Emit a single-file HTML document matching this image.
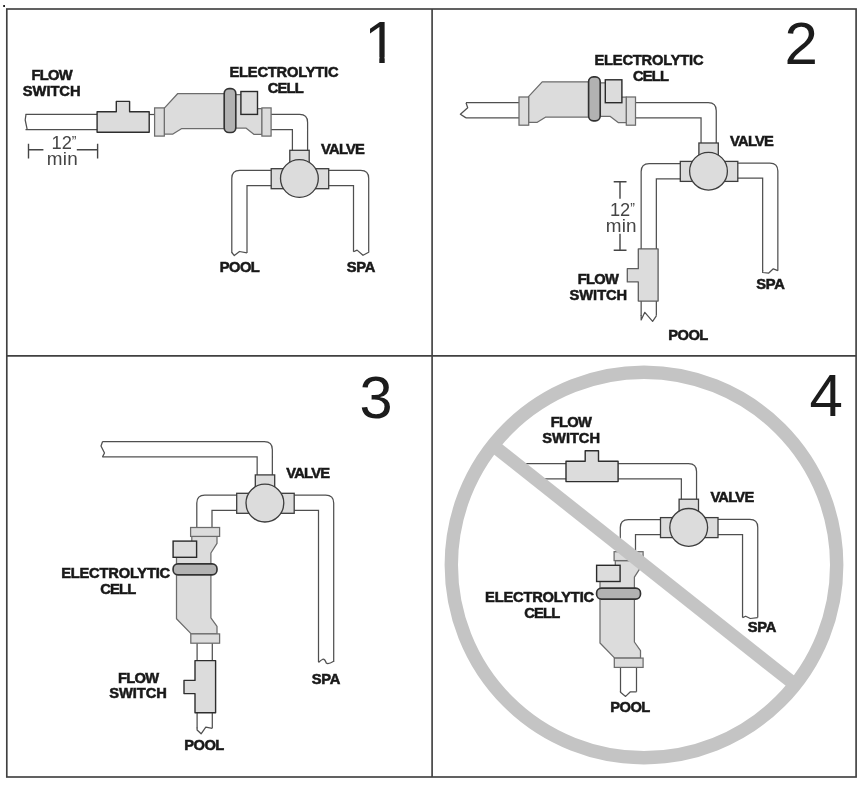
<!DOCTYPE html>
<html lang="en"><head><meta charset="utf-8"><title>Flow switch and electrolytic cell plumbing configurations</title>
<style>html,body{margin:0;padding:0;background:#fff}svg{display:block}</style></head>
<body>
<svg width="867" height="786" viewBox="0 0 867 786" font-family="'Liberation Sans', Arial, Helvetica, sans-serif">
<rect x="0" y="0" width="867" height="786" fill="#fff"/>
<defs><filter id="soft" x="0" y="0" width="867" height="786" filterUnits="userSpaceOnUse"><feGaussianBlur stdDeviation="0.42"/></filter></defs>
<g filter="url(#soft)">
<circle cx="644" cy="565" r="192.7" fill="none" stroke="#c4c4c4" stroke-width="13.4"/>
<path d="M25.5,114.4L98,114.4L98,129.6L25.5,129.6Z" fill="#fff" stroke="none"/>
<path d="M25.5,114.4L98,114.4 M25.5,129.6L98,129.6" fill="none" stroke="#505050" stroke-width="1.25"/>
<path d="M26,114.4 L25.2,120 L27.2,129.6" fill="none" stroke="#505050" stroke-width="1.25" stroke-linejoin="round" />
<path d="M149,114.5 H155" fill="none" stroke="#505050" stroke-width="1.25" stroke-linejoin="round" />
<path d="M97.1,111.8 L116.3,111.8 L116.3,101.4 L129.6,101.4 L129.6,111.8 L149.2,111.8 L149.2,132.2 L97.1,132.2Z" fill="#dcdcdc" stroke="#2e2e2e" stroke-width="1.4" stroke-linejoin="round"/>
<path d="M270,114.4L299.6,114.4Q307.6,114.4 307.6,122.4L307.6,151L292.4,151L292.4,129.6L270,129.6Z" fill="#fff" stroke="none"/>
<path d="M270,114.4L299.6,114.4Q307.6,114.4 307.6,122.4L307.6,151 M270,129.6L292.4,129.6L292.4,151" fill="none" stroke="#505050" stroke-width="1.25"/>
<path d="M164.1,108.4 L177.8,93.5 L226.6,93.5 L226.6,128.7 L181.4,128.7 L172.9,134 L164.1,134Z" fill="#dcdcdc" stroke="#6c6c6c" stroke-width="1.25" stroke-linejoin="round"/>
<path d="M233.6,94.5 L246.6,94.5 L246.6,108.7 L262.1,108.7 L262.1,134.4 L254.1,134.4 L245.9,128.1 L233.6,128.1Z" fill="#dcdcdc" stroke="#6c6c6c" stroke-width="1.25" stroke-linejoin="round"/>
<rect x="154.6" y="107.9" width="9.7" height="28.2" fill="#dcdcdc" stroke="#6c6c6c" stroke-width="1.25"/>
<rect x="261.9" y="107.9" width="9.2" height="28.2" fill="#dcdcdc" stroke="#6c6c6c" stroke-width="1.25"/>
<rect x="240.9" y="91.5" width="16.6" height="22.9" fill="#dcdcdc" stroke="#2a2a2a" stroke-width="1.4"/>
<rect x="224.2" y="88.6" width="11.6" height="43.9" fill="#b2b2b2" stroke="#333" stroke-width="1.65" rx="4.8"/>
<path d="M272,185.5L247,185.5L247,252.9L231.8,252.9L231.8,178.3Q231.8,170.3 239.8,170.3L272,170.3Z" fill="#fff" stroke="none"/>
<path d="M272,185.5L247,185.5L247,252.9 M272,170.3L239.8,170.3Q231.8,170.3 231.8,178.3L231.8,252.9" fill="none" stroke="#505050" stroke-width="1.25"/>
<path d="M231.8,252.5 L234.3,255.6 L239.5,251.5 L247,252.9" fill="none" stroke="#505050" stroke-width="1.25" stroke-linejoin="round" />
<path d="M326,170.3L360.7,170.3Q368.7,170.3 368.7,178.3L368.7,251.8L353.5,251.8L353.5,185.5L326,185.5Z" fill="#fff" stroke="none"/>
<path d="M326,170.3L360.7,170.3Q368.7,170.3 368.7,178.3L368.7,251.8 M326,185.5L353.5,185.5L353.5,251.8" fill="none" stroke="#505050" stroke-width="1.25"/>
<path d="M353.5,251.8 L357.1,250.1 L363,255.3 L368.7,252.3 V251.5" fill="none" stroke="#505050" stroke-width="1.25" stroke-linejoin="round" />
<rect x="289.8" y="150.3" width="19.4" height="13.2" fill="#dcdcdc" stroke="#3c3c3c" stroke-width="1.3"/>
<rect x="271.2" y="168.7" width="13.2" height="20" fill="#dcdcdc" stroke="#3c3c3c" stroke-width="1.3"/>
<rect x="314.4" y="168.7" width="14.3" height="20" fill="#dcdcdc" stroke="#3c3c3c" stroke-width="1.3"/>
<circle cx="299.4" cy="178.5" r="18.9" fill="#dcdcdc" stroke="#3c3c3c" stroke-width="1.3"/>
<path d="M28.5,143.8 V158.6 M97.6,143.8 V158.6 M28.5,149.8 H43.4 M76.8,149.8 H97.6" fill="none" stroke="#454545" stroke-width="1.4" stroke-linejoin="round" />
<text x="64" y="149" font-size="18.3" font-weight="normal" text-anchor="middle" fill="#454545" >12<tspan font-size="14" dy="-3.1">”</tspan></text>
<text x="62.4" y="164.8" font-size="18.9" font-weight="normal" text-anchor="middle" fill="#454545" letter-spacing="0.25">min</text>
<text x="51.65" y="79.8" font-size="14.7" font-weight="bold" text-anchor="middle" fill="#1a1a1a"  stroke="#1a1a1a" stroke-width="0.55" letter-spacing="-0.7">FLOW</text>
<text x="51.68" y="95.9" font-size="14.7" font-weight="bold" text-anchor="middle" fill="#1a1a1a"  stroke="#1a1a1a" stroke-width="0.55" letter-spacing="-0.05">SWITCH</text>
<text x="283.9" y="76.9" font-size="14.7" font-weight="bold" text-anchor="middle" fill="#1a1a1a"  stroke="#1a1a1a" stroke-width="0.55" letter-spacing="-0.2">ELECTROLYTIC</text>
<text x="285.4" y="93.1" font-size="14.7" font-weight="bold" text-anchor="middle" fill="#1a1a1a"  stroke="#1a1a1a" stroke-width="0.55" letter-spacing="-0.8">CELL</text>
<text x="342.62" y="153.8" font-size="14.7" font-weight="bold" text-anchor="middle" fill="#1a1a1a"  stroke="#1a1a1a" stroke-width="0.55" letter-spacing="-0.75">VALVE</text>
<text x="239.53" y="272" font-size="14.7" font-weight="bold" text-anchor="middle" fill="#1a1a1a"  stroke="#1a1a1a" stroke-width="0.55" letter-spacing="-0.55">POOL</text>
<text x="360.85" y="272" font-size="14.7" font-weight="bold" text-anchor="middle" fill="#1a1a1a"  stroke="#1a1a1a" stroke-width="0.55" letter-spacing="-0.3">SPA</text>
<clipPath id="one"><rect x="360" y="10" width="40" height="47"/><rect x="379.3" y="56" width="5.4" height="10"/></clipPath>
<text x="364.2" y="62.8" font-size="60" font-weight="normal" text-anchor="start" fill="#1a1a1a" clip-path="url(#one)">1</text>
<path d="M466,102.7L520,102.7L520,117.9L466,117.9Z" fill="#fff" stroke="none"/>
<path d="M466,102.7L520,102.7 M466,117.9L520,117.9" fill="none" stroke="#505050" stroke-width="1.25"/>
<path d="M466,102.7 L467.7,107.7 L460.4,114.3 L466,117.9" fill="none" stroke="#505050" stroke-width="1.25" stroke-linejoin="round" />
<path d="M634,102.7L708.25,102.7Q716.25,102.7 716.25,110.7L716.25,144L701.05,144L701.05,117.9L634,117.9Z" fill="#fff" stroke="none"/>
<path d="M634,102.7L708.25,102.7Q716.25,102.7 716.25,110.7L716.25,144 M634,117.9L701.05,117.9L701.05,144" fill="none" stroke="#505050" stroke-width="1.25"/>
<path d="M528.5,96.7 L542.2,81.8 L591,81.8 L591,117 L545.8,117 L537.3,122.3 L528.5,122.3Z" fill="#dcdcdc" stroke="#6c6c6c" stroke-width="1.25" stroke-linejoin="round"/>
<path d="M598,82.8 L611,82.8 L611,97 L626.5,97 L626.5,122.7 L618.5,122.7 L610.3,116.4 L598,116.4Z" fill="#dcdcdc" stroke="#6c6c6c" stroke-width="1.25" stroke-linejoin="round"/>
<rect x="519" y="97" width="9.7" height="28.2" fill="#dcdcdc" stroke="#6c6c6c" stroke-width="1.25"/>
<rect x="626.3" y="97" width="9.2" height="28.2" fill="#dcdcdc" stroke="#6c6c6c" stroke-width="1.25"/>
<rect x="605.3" y="79.8" width="16.6" height="22.9" fill="#dcdcdc" stroke="#2a2a2a" stroke-width="1.4"/>
<rect x="588.6" y="76.9" width="11.6" height="43.9" fill="#b2b2b2" stroke="#333" stroke-width="1.65" rx="4.8"/>
<path d="M681,178.8L656.35,178.8L656.35,315.8L641.15,315.8L641.15,171.6Q641.15,163.6 649.15,163.6L681,163.6Z" fill="#fff" stroke="none"/>
<path d="M681,178.8L656.35,178.8L656.35,315.8 M681,163.6L649.15,163.6Q641.15,163.6 641.15,171.6L641.15,315.8" fill="none" stroke="#505050" stroke-width="1.25"/>
<path d="M641.15,315 V319.9 L644.8,312.3 L652.6,321.3 L656.35,315.8" fill="none" stroke="#505050" stroke-width="1.25" stroke-linejoin="round" />
<path d="M638.3,248.9 L658.1,248.9 L658.1,301.1 L638.3,301.1 L638.3,281.9 L627.3,281.9 L627.3,268.7 L638.3,268.7Z" fill="#dcdcdc" stroke="#5e5e5e" stroke-width="1.3" stroke-linejoin="round"/>
<path d="M736,163L769.85,163Q777.85,163 777.85,171L777.85,270.7L762.65,270.7L762.65,178.2L736,178.2Z" fill="#fff" stroke="none"/>
<path d="M736,163L769.85,163Q777.85,163 777.85,171L777.85,270.7 M736,178.2L762.65,178.2L762.65,270.7" fill="none" stroke="#505050" stroke-width="1.25"/>
<path d="M762.65,270 V272.5 L768.5,273.2 L773.3,268.8 L777.85,270.7" fill="none" stroke="#505050" stroke-width="1.25" stroke-linejoin="round" />
<rect x="698.9" y="143" width="19.4" height="13.2" fill="#dcdcdc" stroke="#3c3c3c" stroke-width="1.3"/>
<rect x="680.3" y="161.4" width="13.2" height="20" fill="#dcdcdc" stroke="#3c3c3c" stroke-width="1.3"/>
<rect x="723.5" y="161.4" width="14.3" height="20" fill="#dcdcdc" stroke="#3c3c3c" stroke-width="1.3"/>
<circle cx="708.5" cy="171.2" r="18.9" fill="#dcdcdc" stroke="#3c3c3c" stroke-width="1.3"/>
<path d="M613.7,181.8 H626.5 M613.7,250.2 H626.5 M620,181.8 V198.7 M620,233.7 V250.2" fill="none" stroke="#454545" stroke-width="1.4" stroke-linejoin="round" />
<text x="622.4" y="216" font-size="18.3" font-weight="normal" text-anchor="middle" fill="#454545" >12<tspan font-size="14" dy="-3.1">”</tspan></text>
<text x="621.3" y="231.8" font-size="18.9" font-weight="normal" text-anchor="middle" fill="#454545" letter-spacing="0.25">min</text>
<text x="598.05" y="283.5" font-size="14.7" font-weight="bold" text-anchor="middle" fill="#1a1a1a"  stroke="#1a1a1a" stroke-width="0.55" letter-spacing="-0.7">FLOW</text>
<text x="598.38" y="300.4" font-size="14.7" font-weight="bold" text-anchor="middle" fill="#1a1a1a"  stroke="#1a1a1a" stroke-width="0.55" letter-spacing="-0.05">SWITCH</text>
<text x="648.9" y="65" font-size="14.7" font-weight="bold" text-anchor="middle" fill="#1a1a1a"  stroke="#1a1a1a" stroke-width="0.55" letter-spacing="-0.2">ELECTROLYTIC</text>
<text x="650.6" y="81.3" font-size="14.7" font-weight="bold" text-anchor="middle" fill="#1a1a1a"  stroke="#1a1a1a" stroke-width="0.55" letter-spacing="-0.8">CELL</text>
<text x="751.62" y="146.4" font-size="14.7" font-weight="bold" text-anchor="middle" fill="#1a1a1a"  stroke="#1a1a1a" stroke-width="0.55" letter-spacing="-0.75">VALVE</text>
<text x="688.02" y="339.5" font-size="14.7" font-weight="bold" text-anchor="middle" fill="#1a1a1a"  stroke="#1a1a1a" stroke-width="0.55" letter-spacing="-0.55">POOL</text>
<text x="770.45" y="289.4" font-size="14.7" font-weight="bold" text-anchor="middle" fill="#1a1a1a"  stroke="#1a1a1a" stroke-width="0.55" letter-spacing="-0.3">SPA</text>
<text x="784.5" y="63.9" font-size="60" font-weight="normal" text-anchor="start" fill="#1a1a1a" >2</text>
<path d="M102.3,441.7L264.35,441.7Q272.35,441.7 272.35,449.7L272.35,476L257.15,476L257.15,456.9L102.3,456.9Z" fill="#fff" stroke="none"/>
<path d="M102.3,441.7L264.35,441.7Q272.35,441.7 272.35,449.7L272.35,476 M102.3,456.9L257.15,456.9L257.15,476" fill="none" stroke="#505050" stroke-width="1.25"/>
<path d="M102.5,441.7 L101,446 L104.5,453 L102.5,456.9" fill="none" stroke="#505050" stroke-width="1.25" stroke-linejoin="round" />
<path d="M238,510.25L212,510.25L212,529L196.8,529L196.8,503.05Q196.8,495.05 204.8,495.05L238,495.05Z" fill="#fff" stroke="none"/>
<path d="M238,510.25L212,510.25L212,529 M238,495.05L204.8,495.05Q196.8,495.05 196.8,503.05L196.8,529" fill="none" stroke="#505050" stroke-width="1.25"/>
<path d="M212.3,642L212.3,728.3L197.1,728.3L197.1,642Z" fill="#fff" stroke="none"/>
<path d="M212.3,642L212.3,728.3 M197.1,642L197.1,728.3" fill="none" stroke="#505050" stroke-width="1.25"/>
<path d="M197.1,727.5 V730 L201.1,733.8 L205.8,727.2 L212.3,728.3" fill="none" stroke="#505050" stroke-width="1.25" stroke-linejoin="round" />
<path d="M191.8,536.4 L217,536.4 L217,543.4 L210.9,553 L210.9,567.5 L176.5,567.5 L176.5,547.5 L191.8,547.5Z" fill="#dcdcdc" stroke="#6c6c6c" stroke-width="1.25" stroke-linejoin="round"/>
<path d="M176.5,571.5 L210.9,571.5 L210.9,617.8 L217,626.4 L217,633.9 L191.2,633.9 L176.5,618.8Z" fill="#dcdcdc" stroke="#6c6c6c" stroke-width="1.25" stroke-linejoin="round"/>
<rect x="190.6" y="527.5" width="29" height="8.9" fill="#dcdcdc" stroke="#6c6c6c" stroke-width="1.25"/>
<rect x="190.8" y="633.9" width="28.8" height="9.3" fill="#dcdcdc" stroke="#6c6c6c" stroke-width="1.25"/>
<rect x="173.1" y="541.1" width="23.5" height="16.2" fill="#dcdcdc" stroke="#2a2a2a" stroke-width="1.4"/>
<rect x="173.1" y="563.9" width="43.9" height="11" fill="#b2b2b2" stroke="#333" stroke-width="1.65" rx="4.8"/>
<path d="M195,660.6 L215.6,660.6 L215.6,712.8 L195,712.8 L195,693.6 L184,693.6 L184,680.4 L195,680.4Z" fill="#dcdcdc" stroke="#2e2e2e" stroke-width="1.4" stroke-linejoin="round"/>
<path d="M293,495.05L325.7,495.05Q333.7,495.05 333.7,503.05L333.7,662L318.5,662L318.5,510.25L293,510.25Z" fill="#fff" stroke="none"/>
<path d="M293,495.05L325.7,495.05Q333.7,495.05 333.7,503.05L333.7,662 M293,510.25L318.5,510.25L318.5,662" fill="none" stroke="#505050" stroke-width="1.25"/>
<path d="M318.5,662.5 Q321,660 323.2,659 Q325,659 326.3,663 Q328,664.8 333.7,661.2" fill="none" stroke="#505050" stroke-width="1.25" stroke-linejoin="round" />
<rect x="255.3" y="474.9" width="19.4" height="13.2" fill="#dcdcdc" stroke="#3c3c3c" stroke-width="1.3"/>
<rect x="236.7" y="493.3" width="13.2" height="20" fill="#dcdcdc" stroke="#3c3c3c" stroke-width="1.3"/>
<rect x="279.9" y="493.3" width="14.3" height="20" fill="#dcdcdc" stroke="#3c3c3c" stroke-width="1.3"/>
<circle cx="264.9" cy="503.1" r="18.9" fill="#dcdcdc" stroke="#3c3c3c" stroke-width="1.3"/>
<text x="115.6" y="577.5" font-size="14.7" font-weight="bold" text-anchor="middle" fill="#1a1a1a"  stroke="#1a1a1a" stroke-width="0.55" letter-spacing="-0.2">ELECTROLYTIC</text>
<text x="117.9" y="593.7" font-size="14.7" font-weight="bold" text-anchor="middle" fill="#1a1a1a"  stroke="#1a1a1a" stroke-width="0.55" letter-spacing="-0.8">CELL</text>
<text x="307.82" y="478" font-size="14.7" font-weight="bold" text-anchor="middle" fill="#1a1a1a"  stroke="#1a1a1a" stroke-width="0.55" letter-spacing="-0.75">VALVE</text>
<text x="138.15" y="682.5" font-size="14.7" font-weight="bold" text-anchor="middle" fill="#1a1a1a"  stroke="#1a1a1a" stroke-width="0.55" letter-spacing="-0.7">FLOW</text>
<text x="138.07" y="698.4" font-size="14.7" font-weight="bold" text-anchor="middle" fill="#1a1a1a"  stroke="#1a1a1a" stroke-width="0.55" letter-spacing="-0.05">SWITCH</text>
<text x="204.03" y="750.1" font-size="14.7" font-weight="bold" text-anchor="middle" fill="#1a1a1a"  stroke="#1a1a1a" stroke-width="0.55" letter-spacing="-0.55">POOL</text>
<text x="325.85" y="683.6" font-size="14.7" font-weight="bold" text-anchor="middle" fill="#1a1a1a"  stroke="#1a1a1a" stroke-width="0.55" letter-spacing="-0.3">SPA</text>
<text x="359.6" y="418.2" font-size="59.5" font-weight="normal" text-anchor="start" fill="#1a1a1a" >3</text>
<path d="M516,463.55L688.55,463.55Q696.55,463.55 696.55,471.55L696.55,500.5L681.35,500.5L681.35,478.75L535,478.75Z" fill="#fff" stroke="none"/>
<path d="M516,463.55L688.55,463.55Q696.55,463.55 696.55,471.55L696.55,500.5 M535,478.75L681.35,478.75L681.35,500.5" fill="none" stroke="#505050" stroke-width="1.25"/>
<path d="M566,461.2 L585.2,461.2 L585.2,450.8 L598.5,450.8 L598.5,461.2 L618.1,461.2 L618.1,481.6 L566,481.6Z" fill="#dcdcdc" stroke="#2e2e2e" stroke-width="1.4" stroke-linejoin="round"/>
<path d="M661,534.7L635.5,534.7L635.5,553L620.3,553L620.3,527.5Q620.3,519.5 628.3,519.5L661,519.5Z" fill="#fff" stroke="none"/>
<path d="M661,534.7L635.5,534.7L635.5,553 M661,519.5L628.3,519.5Q620.3,519.5 620.3,527.5L620.3,553" fill="none" stroke="#505050" stroke-width="1.25"/>
<path d="M636.5,666L636.5,691.8L620.5,691.8L620.5,666Z" fill="#fff" stroke="none"/>
<path d="M636.5,666L636.5,691.8 M620.5,666L620.5,691.8" fill="none" stroke="#505050" stroke-width="1.25"/>
<path d="M620.5,691 V692.3 L625.6,696.4 L630.4,691.8 L636.5,691.8" fill="none" stroke="#505050" stroke-width="1.25" stroke-linejoin="round" />
<path d="M615.3,560.6 L640.5,560.6 L640.5,567.6 L634.4,577.2 L634.4,591.7 L600,591.7 L600,571.7 L615.3,571.7Z" fill="#dcdcdc" stroke="#6c6c6c" stroke-width="1.25" stroke-linejoin="round"/>
<path d="M600,595.7 L634.4,595.7 L634.4,642 L640.5,650.6 L640.5,658.1 L614.7,658.1 L600,643Z" fill="#dcdcdc" stroke="#6c6c6c" stroke-width="1.25" stroke-linejoin="round"/>
<rect x="614.1" y="551.7" width="29" height="8.9" fill="#dcdcdc" stroke="#6c6c6c" stroke-width="1.25"/>
<rect x="614.3" y="658.1" width="28.8" height="9.3" fill="#dcdcdc" stroke="#6c6c6c" stroke-width="1.25"/>
<rect x="596.6" y="565.3" width="23.5" height="16.2" fill="#dcdcdc" stroke="#2a2a2a" stroke-width="1.4"/>
<rect x="596.6" y="588.1" width="43.9" height="11" fill="#b2b2b2" stroke="#333" stroke-width="1.65" rx="4.8"/>
<path d="M717,519.4L749.75,519.4Q757.75,519.4 757.75,527.4L757.75,617.6L742.55,617.6L742.55,534.6L717,534.6Z" fill="#fff" stroke="none"/>
<path d="M717,519.4L749.75,519.4Q757.75,519.4 757.75,527.4L757.75,617.6 M717,534.6L742.55,534.6L742.55,617.6" fill="none" stroke="#505050" stroke-width="1.25"/>
<path d="M742.55,617.6 L745.7,616.2 L750.3,618.5 L757.75,617.6" fill="none" stroke="#505050" stroke-width="1.25" stroke-linejoin="round" />
<rect x="679.1" y="499.2" width="19.4" height="13.2" fill="#dcdcdc" stroke="#3c3c3c" stroke-width="1.3"/>
<rect x="660.5" y="517.6" width="13.2" height="20" fill="#dcdcdc" stroke="#3c3c3c" stroke-width="1.3"/>
<rect x="703.7" y="517.6" width="14.3" height="20" fill="#dcdcdc" stroke="#3c3c3c" stroke-width="1.3"/>
<circle cx="688.7" cy="527.4" r="18.9" fill="#dcdcdc" stroke="#3c3c3c" stroke-width="1.3"/>
<text x="570.85" y="426.5" font-size="14.7" font-weight="bold" text-anchor="middle" fill="#1a1a1a"  stroke="#1a1a1a" stroke-width="0.55" letter-spacing="-0.7">FLOW</text>
<text x="571.18" y="442.6" font-size="14.7" font-weight="bold" text-anchor="middle" fill="#1a1a1a"  stroke="#1a1a1a" stroke-width="0.55" letter-spacing="-0.05">SWITCH</text>
<text x="539.5" y="601.9" font-size="14.7" font-weight="bold" text-anchor="middle" fill="#1a1a1a"  stroke="#1a1a1a" stroke-width="0.55" letter-spacing="-0.2">ELECTROLYTIC</text>
<text x="541.8" y="618.1" font-size="14.7" font-weight="bold" text-anchor="middle" fill="#1a1a1a"  stroke="#1a1a1a" stroke-width="0.55" letter-spacing="-0.8">CELL</text>
<text x="731.92" y="501.9" font-size="14.7" font-weight="bold" text-anchor="middle" fill="#1a1a1a"  stroke="#1a1a1a" stroke-width="0.55" letter-spacing="-0.75">VALVE</text>
<text x="630.02" y="712.4" font-size="14.7" font-weight="bold" text-anchor="middle" fill="#1a1a1a"  stroke="#1a1a1a" stroke-width="0.55" letter-spacing="-0.55">POOL</text>
<text x="761.95" y="632.4" font-size="14.7" font-weight="bold" text-anchor="middle" fill="#1a1a1a"  stroke="#1a1a1a" stroke-width="0.55" letter-spacing="-0.3">SPA</text>
<text x="809.5" y="415.7" font-size="60" font-weight="normal" text-anchor="start" fill="#1a1a1a" >4</text>
<line x1="493" y1="445.3" x2="795" y2="684.7" stroke="#c4c4c4" stroke-width="13.2"/>
<rect x="6.8" y="9" width="849.3" height="768" fill="none" stroke="#404040" stroke-width="1.65"/>
<line x1="432.1" y1="9" x2="432.1" y2="777" stroke="#404040" stroke-width="1.65"/>
<line x1="6.8" y1="355.8" x2="856.1" y2="355.8" stroke="#404040" stroke-width="1.65"/>
<rect x="3.2" y="5" width="1.8" height="2" fill="#222"/>
</g>
</svg>
</body></html>
